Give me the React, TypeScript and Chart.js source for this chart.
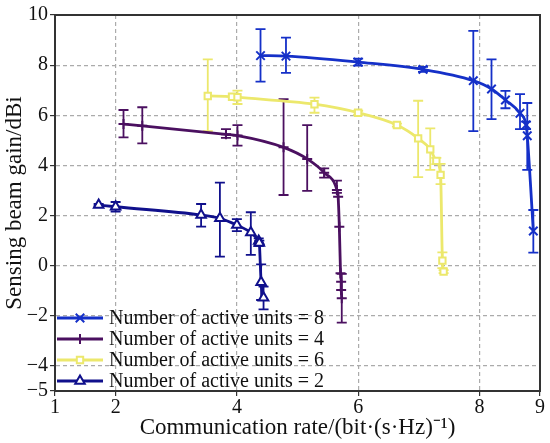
import { useEffect, useRef } from "react"
import { Chart, registerables } from "chart.js"
import { drawPoint } from "chart.js/helpers"

Chart.register(...registerables)

// Number of active units = 8
const rate8 = [4.39, 4.81, 6.0, 7.07, 7.9, 8.2, 8.43, 8.67, 8.77, 8.79, 8.89]
const gain8 = [8.38, 8.36, 8.12, 7.83, 7.38, 7.05, 6.61, 6.08, 5.61, 5.18, 1.38]
const low8 = [7.34, 7.69, 7.98, 7.73, 5.37, 5.85, 6.28, 5.45, 5.45, 3.82, 0.52]
const high8 = [9.44, 9.1, 8.26, 7.93, 9.37, 8.23, 6.97, 6.84, 5.75, 6.49, 2.22]

// Number of active units = 4
const rate4 = [2.13, 2.44, 3.82, 4.01, 4.77, 5.16, 5.44, 5.65, 5.67, 5.69, 5.71, 5.72, 5.72, 5.73]
const gain4 = [5.65, 5.58, 5.24, 5.19, 4.72, 4.26, 3.71, 3.02, 2.75, 1.55, -0.3, -0.64, -0.97, -1.3]
const low4 = [5.12, 4.88, 5.1, 4.79, 2.82, 2.98, 3.51, 2.9, 2.75, 1.55, -0.3, -0.64, -0.97, -2.27]
const high4 = [6.21, 6.32, 5.45, 5.61, 6.64, 5.61, 3.88, 3.39, 2.75, 1.55, -0.3, -0.64, -0.97, -0.33]

// Number of active units = 6
const rate6 = [3.52, 3.92, 4.01, 5.28, 6.0, 6.64, 6.99, 7.19, 7.29, 7.36, 7.39, 7.41]
const gain6 = [6.77, 6.74, 6.72, 6.44, 6.1, 5.61, 5.08, 4.64, 4.18, 3.62, 0.2, -0.24]
const low6 = [5.37, 6.74, 6.45, 6.1, 6.02, 5.55, 3.53, 3.82, 4.05, 3.25, -0.1, -0.3]
const high6 = [8.23, 6.74, 6.98, 6.7, 6.18, 5.67, 6.58, 5.48, 4.3, 4.06, 0.53, -0.18]

// Number of active units = 2
const rate2 = [1.72, 2.0, 3.41, 3.72, 4.0, 4.23, 4.36, 4.37, 4.4, 4.44]
const gain2 = [2.42, 2.35, 2.02, 1.89, 1.62, 1.32, 0.98, 0.9, -0.66, -1.28]
const low2 = [2.38, 2.16, 1.56, 0.36, 1.38, 0.43, 0.79, 0.8, -1.37, -1.74]
const high2 = [2.46, 2.54, 2.46, 3.31, 1.86, 2.13, 1.09, 1.0, 0.05, -0.84]

const xTicks = [1, 2, 4, 6, 8, 9]
const yTicks = [-5, -4, -2, 0, 2, 4, 6, 8, 10]

const FONT = "'Liberation Serif', 'Times New Roman', serif"

const series = [
  { label: "Number of active units = 8", x: rate8, y: gain8, lo: low8, hi: high8, color: "#1530c8", style: "crossRot", radius: 6, fill: "#1530c8" },
  { label: "Number of active units = 4", x: rate4, y: gain4, lo: low4, hi: high4, color: "#4b1060", style: "cross", radius: 5, fill: "#4b1060" },
  { label: "Number of active units = 6", x: rate6, y: gain6, lo: low6, hi: high6, color: "#ece86c", style: "rect", radius: 4.5, fill: "#ffffff" },
  { label: "Number of active units = 2", x: rate2, y: gain2, lo: low2, hi: high2, color: "#10108c", style: "triangle", radius: 5.5, fill: "#ffffff" },
]

const fmtTick = (v: number) => (v < 0 ? "\u2212" + Math.abs(v) : String(v))

const errorBars = {
  id: "errorBars",
  beforeDatasetsDraw(chart: any) {
    const { ctx, scales } = chart
    ctx.save()
    series.forEach((s) => {
      ctx.strokeStyle = s.color
      ctx.lineWidth = 1.8
      s.x.forEach((xv, i) => {
        if (s.hi[i] - s.lo[i] < 0.01) return
        const px = scales.x.getPixelForValue(xv)
        const top = scales.y.getPixelForValue(s.hi[i])
        const bot = scales.y.getPixelForValue(s.lo[i])
        ctx.beginPath()
        ctx.moveTo(px, top)
        ctx.lineTo(px, bot)
        ctx.moveTo(px - 5, top)
        ctx.lineTo(px + 5, top)
        ctx.moveTo(px - 5, bot)
        ctx.lineTo(px + 5, bot)
        ctx.stroke()
      })
    })
    ctx.restore()
  },
}

const frameAndLegend = {
  id: "frameAndLegend",
  afterDraw(chart: any) {
    const { ctx, chartArea } = chart
    ctx.save()
    ctx.strokeStyle = "#333333"
    ctx.lineWidth = 2
    ctx.strokeRect(chartArea.left, chartArea.top, chartArea.right - chartArea.left, chartArea.bottom - chartArea.top)

    // legend inside the plot, lower left
    const x0 = chartArea.left + 2
    let y = chartArea.bottom - 73
    ctx.font = "20px " + FONT
    ctx.textBaseline = "middle"
    series.forEach((s) => {
      ctx.strokeStyle = s.color
      ctx.lineWidth = 2.8
      ctx.beginPath()
      ctx.moveTo(x0, y)
      ctx.lineTo(x0 + 46, y)
      ctx.stroke()
      ctx.fillStyle = s.fill
      ctx.lineWidth = 2
      drawPoint(ctx, { pointStyle: s.style, radius: s.radius, rotation: 0, borderWidth: 2 } as any, x0 + 23, y)
      ctx.fillStyle = "#111111"
      ctx.fillText(s.label, x0 + 52, y + 1)
      y += 21
    })
    ctx.restore()
  },
}

export default function App() {
  const chartRef = useRef<HTMLCanvasElement>(null)
  const chartInstance = useRef<Chart | null>(null)

  useEffect(() => {
    document.body.style.margin = "0"
    if (!chartRef.current) return
    const ctx = chartRef.current.getContext("2d")
    if (!ctx) return
    if (chartInstance.current) chartInstance.current.destroy()

    chartInstance.current = new Chart(ctx, {
      type: "scatter",
      data: {
        datasets: series.map((s) => ({
          label: s.label,
          data: s.x.map((xv, i) => ({ x: xv, y: s.y[i] })),
          showLine: true,
          borderColor: s.color,
          borderWidth: 2.8,
          cubicInterpolationMode: "monotone" as const,
          pointStyle: s.style as any,
          pointRadius: s.radius,
          pointBorderWidth: 2,
          pointBorderColor: s.color,
          pointBackgroundColor: s.fill,
        })),
      },
      options: {
        responsive: true,
        maintainAspectRatio: false,
        animation: false,
        layout: { padding: { top: 15, right: 10, left: 0, bottom: 0 } },
        plugins: {
          legend: { display: false },
          tooltip: { enabled: false },
        },
        scales: {
          x: {
            type: "linear",
            min: 1,
            max: 9,
            afterBuildTicks: (scale: any) => {
              scale.ticks = xTicks.map((v) => ({ value: v }))
            },
            afterFit: (scale: any) => {
              scale.height = 52
            },
            ticks: {
              color: "#111111",
              font: { family: FONT, size: 20 },
              padding: 0,
              maxRotation: 0,
              autoSkip: false,
              callback: (v: any) => fmtTick(Number(v)),
            },
            grid: {
              color: (c: any) => (c.tick && (c.tick.value === 1 || c.tick.value === 9) ? "rgba(0,0,0,0)" : "#ababab"),
              lineWidth: 1.2,
              tickColor: "#333333",
              tickLength: 5,
              tickBorderDash: [],
            },
            border: { display: true, color: "#333333", width: 2, dash: [4, 3] },
            title: {
              display: true,
              text: "Communication rate/(bit\u00b7(s\u00b7Hz)\u207b\u00b9)",
              color: "#111111",
              font: { family: FONT, size: 23 },
              padding: { top: 0, bottom: 1 },
            },
          },
          y: {
            type: "linear",
            min: -5,
            max: 10,
            afterBuildTicks: (scale: any) => {
              scale.ticks = yTicks.map((v) => ({ value: v }))
            },
            afterFit: (scale: any) => {
              scale.width = 55
            },
            ticks: {
              color: "#111111",
              font: { family: FONT, size: 20 },
              padding: 2,
              autoSkip: false,
              callback: (v: any) => fmtTick(Number(v)),
            },
            grid: {
              color: (c: any) => (c.tick && (c.tick.value === -5 || c.tick.value === 10) ? "rgba(0,0,0,0)" : "#ababab"),
              lineWidth: 1.2,
              tickColor: "#333333",
              tickLength: 5,
              tickBorderDash: [],
            },
            border: { display: true, color: "#333333", width: 2, dash: [4, 3] },
            title: {
              display: true,
              text: "Sensing beam gain/dBi",
              color: "#111111",
              font: { family: FONT, size: 23 },
              padding: { top: 1, bottom: 0 },
            },
          },
        },
      },
      plugins: [errorBars, frameAndLegend],
    })

    return () => {
      if (chartInstance.current) {
        chartInstance.current.destroy()
        chartInstance.current = null
      }
    }
  }, [])

  return (
    <div style={{ width: 550, height: 443 }}>
      <canvas ref={chartRef} aria-label="Sensing beam gain versus communication rate" role="img"></canvas>
    </div>
  )
}
